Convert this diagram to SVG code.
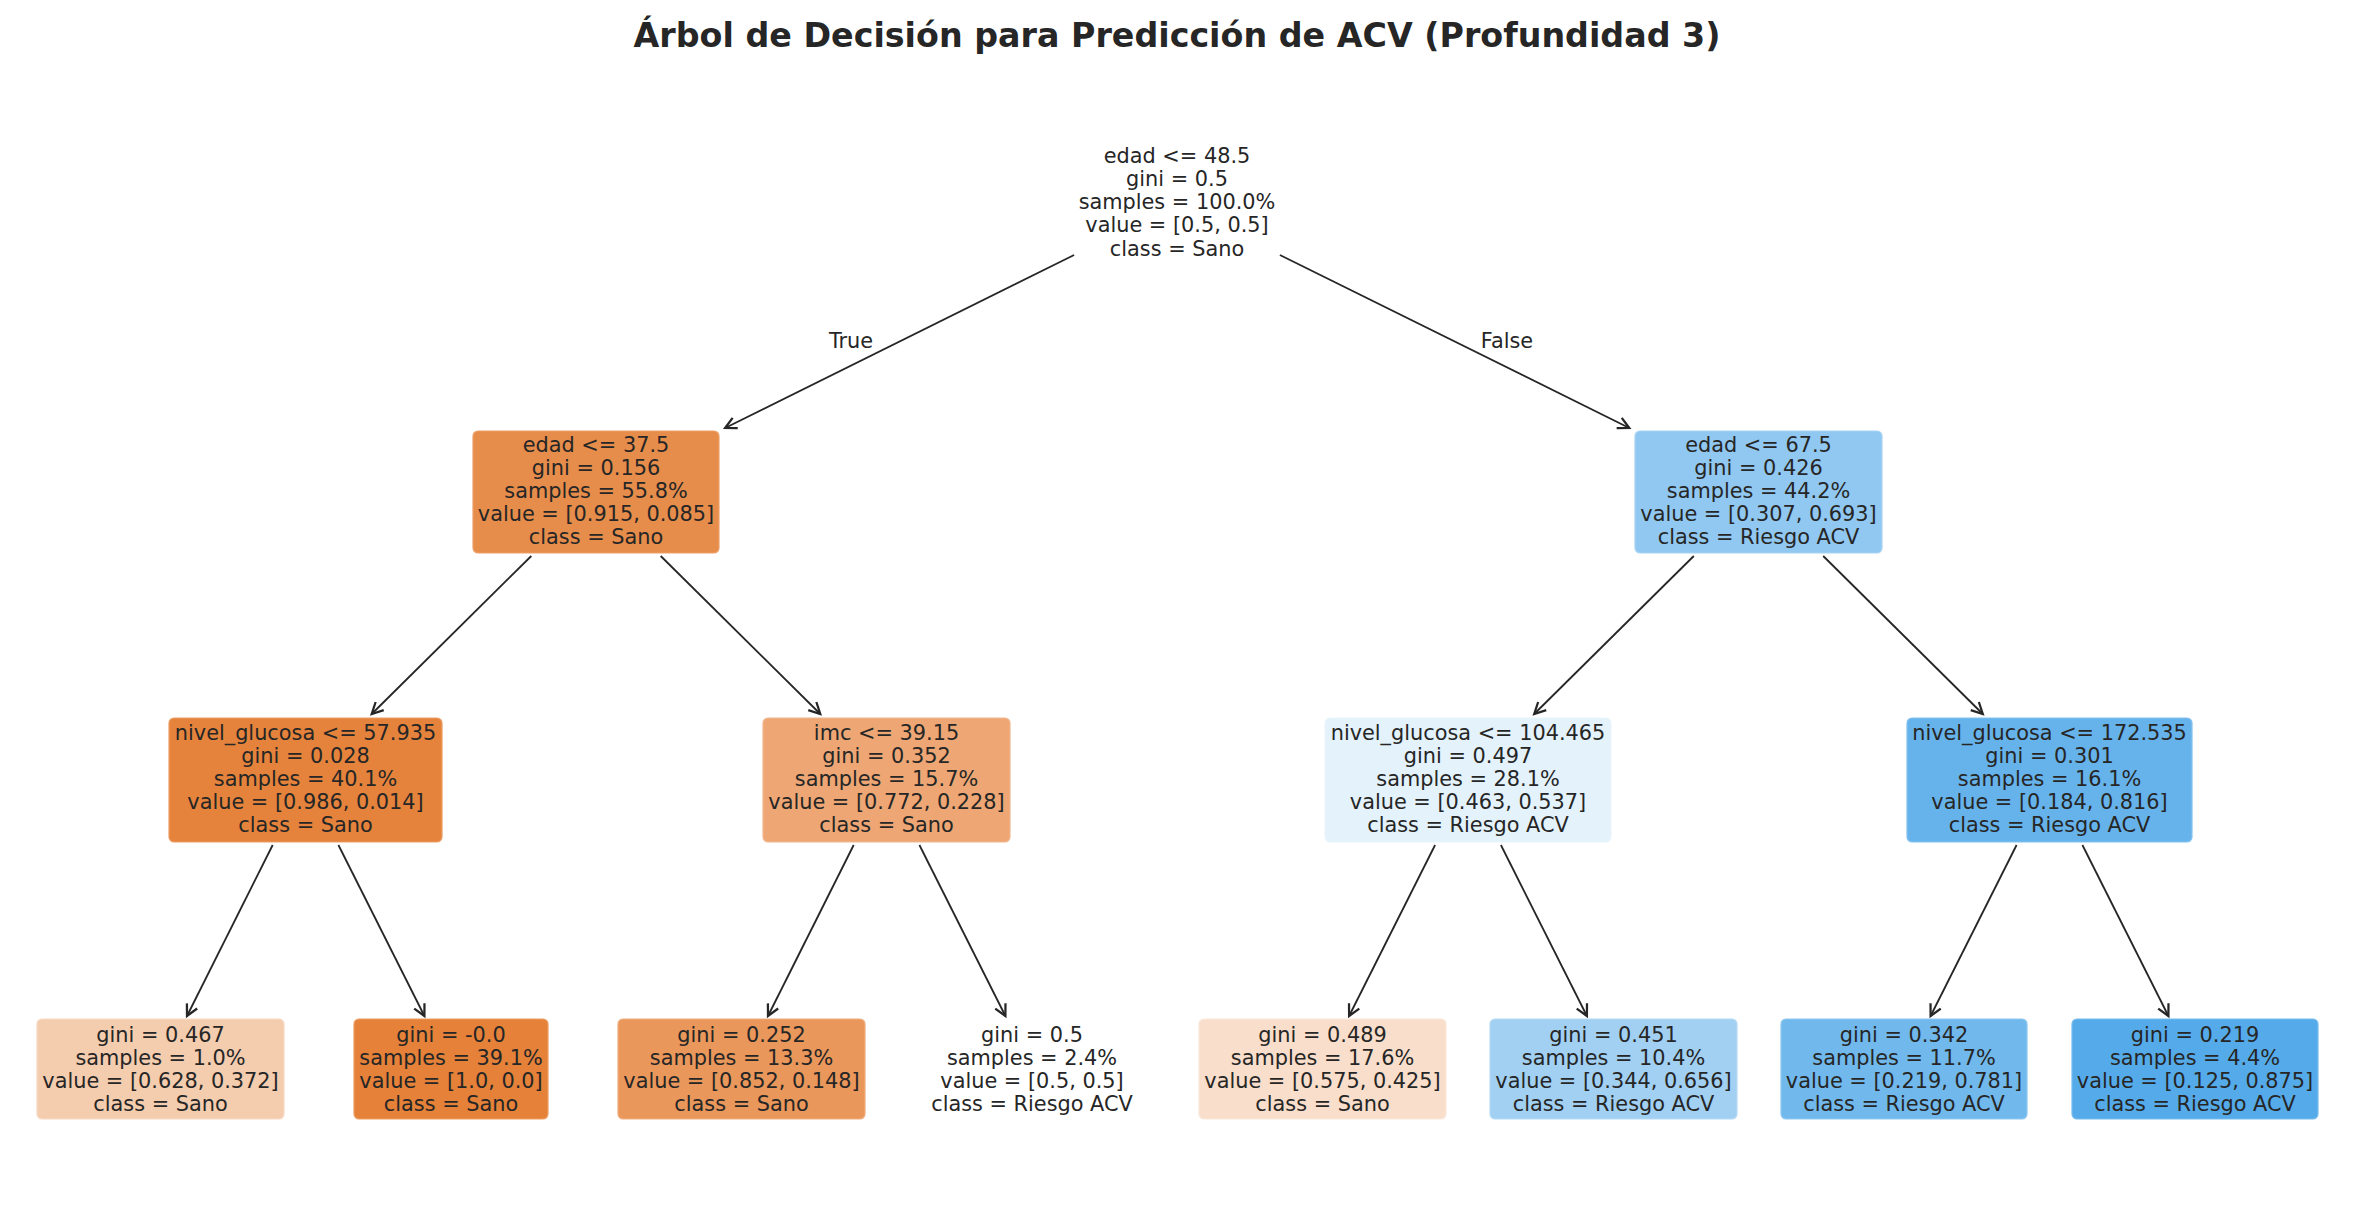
<svg xmlns="http://www.w3.org/2000/svg" width="2355" height="1229" viewBox="0 0 2355 1229">
<style>
text{font-family:"DejaVu Sans","Liberation Sans",sans-serif;fill:#262626;}
.t{font-size:20.83px;text-anchor:middle;}
.title{font-size:33.3px;font-weight:bold;text-anchor:middle;}
.box{stroke-width:1.2;}
.edge{stroke:#262626;stroke-width:1.8;fill:none;marker-end:url(#ah);}
</style>
<defs>
<marker id="ah" markerUnits="userSpaceOnUse" markerWidth="20" markerHeight="20" viewBox="-12 -8 14 16" refX="0" refY="0" orient="auto">
<path d="M-9,-4.6 L0,0 L-9,4.6" fill="none" stroke="#262626" stroke-width="1.8"/>
</marker>
</defs>
<rect width="2355" height="1229" fill="#ffffff"/>
<text class="title" x="1177" y="47">Árbol de Decisión para Predicción de ACV (Profundidad 3)</text>

<g id="connectors">
<line class="edge" x1="1074.1" y1="255" x2="725.1" y2="428"/>
<line class="edge" x1="1279.9" y1="255" x2="1629.3" y2="428"/>
<line class="edge" x1="531.3" y1="556" x2="371.7" y2="714"/>
<line class="edge" x1="660.7" y1="556" x2="820.3" y2="714"/>
<line class="edge" x1="1693.8" y1="556" x2="1534.2" y2="714"/>
<line class="edge" x1="1823.2" y1="556" x2="1982.8" y2="714"/>
<line class="edge" x1="272.7" y1="845" x2="187.0" y2="1016"/>
<line class="edge" x1="338.4" y1="845" x2="424.4" y2="1016"/>
<line class="edge" x1="853.7" y1="845" x2="768.0" y2="1016"/>
<line class="edge" x1="919.4" y1="845" x2="1005.4" y2="1016"/>
<line class="edge" x1="1435.1" y1="845" x2="1349.1" y2="1016"/>
<line class="edge" x1="1500.9" y1="845" x2="1586.9" y2="1016"/>
<line class="edge" x1="2016.6" y1="845" x2="1930.6" y2="1016"/>
<line class="edge" x1="2082.4" y1="845" x2="2168.4" y2="1016"/>
<text class="t" x="851" y="348">True</text>
<text class="t" x="1507" y="348">False</text>
</g>

<g id="root">
<text class="t" x="1177" y="163">edad &lt;= 48.5</text>
<text class="t" x="1177" y="186">gini = 0.5</text>
<text class="t" x="1177" y="209">samples = 100.0%</text>
<text class="t" x="1177" y="232">value = [0.5, 0.5]</text>
<text class="t" x="1177" y="255.5">class = Sano</text>
</g>

<g id="n1">
<rect class="box" x="473" y="431" width="246" height="122" rx="5" fill="#e78d4b" stroke="#eda06a"/>
<text class="t" x="596" y="452">edad &lt;= 37.5</text>
<text class="t" x="596" y="475">gini = 0.156</text>
<text class="t" x="596" y="498">samples = 55.8%</text>
<text class="t" x="596" y="521">value = [0.915, 0.085]</text>
<text class="t" x="596" y="544">class = Sano</text>
</g>

<g id="n2">
<rect class="box" x="1635" y="431" width="247" height="122" rx="5" fill="#91c8f1" stroke="#a8d3f3"/>
<text class="t" x="1758.5" y="452">edad &lt;= 67.5</text>
<text class="t" x="1758.5" y="475">gini = 0.426</text>
<text class="t" x="1758.5" y="498">samples = 44.2%</text>
<text class="t" x="1758.5" y="521">value = [0.307, 0.693]</text>
<text class="t" x="1758.5" y="544">class = Riesgo ACV</text>
</g>

<g id="n3">
<rect class="box" x="169" y="718" width="273" height="124" rx="5" fill="#e5833c" stroke="#ec9d63"/>
<text class="t" x="305.5" y="740">nivel_glucosa &lt;= 57.935</text>
<text class="t" x="305.5" y="763">gini = 0.028</text>
<text class="t" x="305.5" y="786">samples = 40.1%</text>
<text class="t" x="305.5" y="809">value = [0.986, 0.014]</text>
<text class="t" x="305.5" y="832">class = Sano</text>
</g>

<g id="n4">
<rect class="box" x="763" y="718" width="247" height="124" rx="5" fill="#eda674" stroke="#f1b78d"/>
<text class="t" x="886.5" y="740">imc &lt;= 39.15</text>
<text class="t" x="886.5" y="763">gini = 0.352</text>
<text class="t" x="886.5" y="786">samples = 15.7%</text>
<text class="t" x="886.5" y="809">value = [0.772, 0.228]</text>
<text class="t" x="886.5" y="832">class = Sano</text>
</g>

<g id="n5">
<rect class="box" x="1325" y="718" width="286" height="124" rx="5" fill="#e4f2fb" stroke="#ecf6fc"/>
<text class="t" x="1468" y="740">nivel_glucosa &lt;= 104.465</text>
<text class="t" x="1468" y="763">gini = 0.497</text>
<text class="t" x="1468" y="786">samples = 28.1%</text>
<text class="t" x="1468" y="809">value = [0.463, 0.537]</text>
<text class="t" x="1468" y="832">class = Riesgo ACV</text>
</g>

<g id="n6">
<rect class="box" x="1907" y="718" width="285" height="124" rx="5" fill="#66b3eb" stroke="#84c2ef"/>
<text class="t" x="2049.5" y="740">nivel_glucosa &lt;= 172.535</text>
<text class="t" x="2049.5" y="763">gini = 0.301</text>
<text class="t" x="2049.5" y="786">samples = 16.1%</text>
<text class="t" x="2049.5" y="809">value = [0.184, 0.816]</text>
<text class="t" x="2049.5" y="832">class = Riesgo ACV</text>
</g>

<g id="l1">
<rect class="box" x="37" y="1019" width="247" height="100" rx="5" fill="#f4ccae" stroke="#f7d9c3"/>
<text class="t" x="160.5" y="1041.5">gini = 0.467</text>
<text class="t" x="160.5" y="1064.5">samples = 1.0%</text>
<text class="t" x="160.5" y="1087.5">value = [0.628, 0.372]</text>
<text class="t" x="160.5" y="1110.5">class = Sano</text>
</g>

<g id="l2">
<rect class="box" x="354" y="1019" width="194" height="100" rx="5" fill="#e58139" stroke="#ec9d63"/>
<text class="t" x="451" y="1041.5">gini = -0.0</text>
<text class="t" x="451" y="1064.5">samples = 39.1%</text>
<text class="t" x="451" y="1087.5">value = [1.0, 0.0]</text>
<text class="t" x="451" y="1110.5">class = Sano</text>
</g>

<g id="l3">
<rect class="box" x="618" y="1019" width="247" height="100" rx="5" fill="#ea975b" stroke="#efae7f"/>
<text class="t" x="741.5" y="1041.5">gini = 0.252</text>
<text class="t" x="741.5" y="1064.5">samples = 13.3%</text>
<text class="t" x="741.5" y="1087.5">value = [0.852, 0.148]</text>
<text class="t" x="741.5" y="1110.5">class = Sano</text>
</g>

<g id="l4">
<text class="t" x="1032" y="1041.5">gini = 0.5</text>
<text class="t" x="1032" y="1064.5">samples = 2.4%</text>
<text class="t" x="1032" y="1087.5">value = [0.5, 0.5]</text>
<text class="t" x="1032" y="1110.5">class = Riesgo ACV</text>
</g>

<g id="l5">
<rect class="box" x="1199" y="1019" width="247" height="100" rx="5" fill="#f8decb" stroke="#fae7d9"/>
<text class="t" x="1322.5" y="1041.5">gini = 0.489</text>
<text class="t" x="1322.5" y="1064.5">samples = 17.6%</text>
<text class="t" x="1322.5" y="1087.5">value = [0.575, 0.425]</text>
<text class="t" x="1322.5" y="1110.5">class = Sano</text>
</g>

<g id="l6">
<rect class="box" x="1490" y="1019" width="247" height="100" rx="5" fill="#a1d0f3" stroke="#b6daf5"/>
<text class="t" x="1613.5" y="1041.5">gini = 0.451</text>
<text class="t" x="1613.5" y="1064.5">samples = 10.4%</text>
<text class="t" x="1613.5" y="1087.5">value = [0.344, 0.656]</text>
<text class="t" x="1613.5" y="1110.5">class = Riesgo ACV</text>
</g>

<g id="l7">
<rect class="box" x="1781" y="1019" width="246" height="100" rx="5" fill="#71b9ec" stroke="#8dc7f0"/>
<text class="t" x="1904" y="1041.5">gini = 0.342</text>
<text class="t" x="1904" y="1064.5">samples = 11.7%</text>
<text class="t" x="1904" y="1087.5">value = [0.219, 0.781]</text>
<text class="t" x="1904" y="1110.5">class = Riesgo ACV</text>
</g>

<g id="l8">
<rect class="box" x="2072" y="1019" width="246" height="100" rx="5" fill="#55abe9" stroke="#77bbed"/>
<text class="t" x="2195" y="1041.5">gini = 0.219</text>
<text class="t" x="2195" y="1064.5">samples = 4.4%</text>
<text class="t" x="2195" y="1087.5">value = [0.125, 0.875]</text>
<text class="t" x="2195" y="1110.5">class = Riesgo ACV</text>
</g>
</svg>
